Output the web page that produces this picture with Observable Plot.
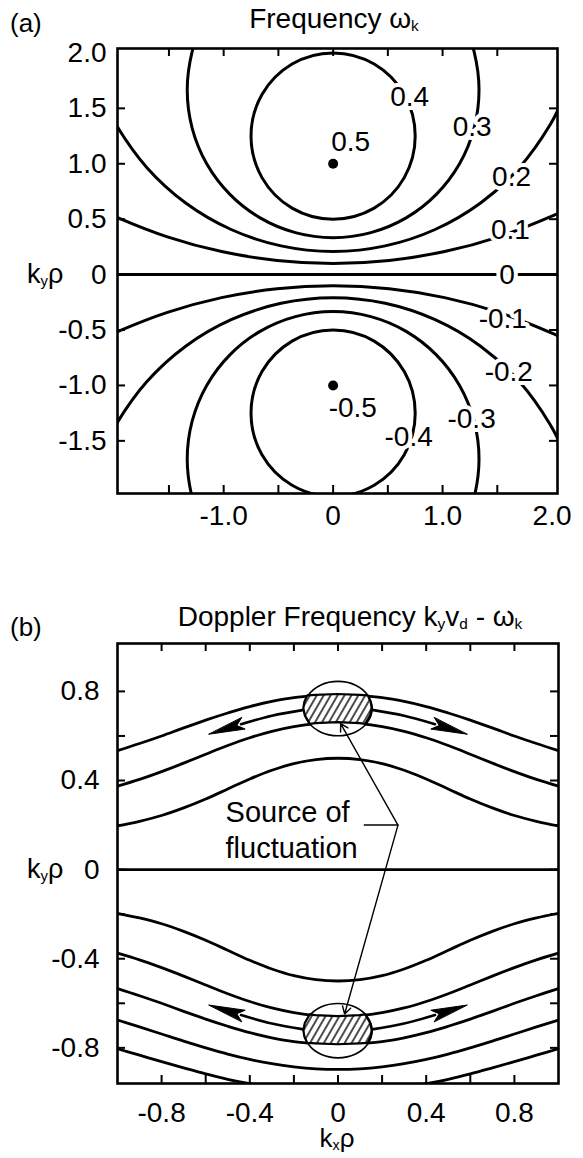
<!DOCTYPE html>
<html><head><meta charset="utf-8">
<script src="https://cdn.jsdelivr.net/npm/d3@7"></script>
<script src="https://cdn.jsdelivr.net/npm/@observablehq/plot@0.6"></script>
<style>
body{margin:0;background:#fff;font-family:"Liberation Sans",Arial,sans-serif;}
#wrap{position:relative;width:583px;height:1158px;overflow:hidden;background:#fff;}
.lbl{position:absolute;white-space:nowrap;line-height:1;color:#000;font-family:"Liberation Sans",Arial,sans-serif;}
.lbl sub{font-size:0.55em;vertical-align:baseline;position:relative;top:0.22em;}
</style></head><body><div id="wrap"></div>
<script>
// ---------- Panel (a): frequency omega_k ----------
const aTickMarks = [-1.5, -1, -0.5, 0, 0.5, 1, 1.5];
const aXLabels = [-1.0, 0, 1.0, 2.0];
const aYLabels = [2.0, 1.5, 1.0, 0.5, 0, -0.5, -1.0, -1.5];
// contour lines, [k_x rho, k_y rho] points
const a04 = [[0.75,1.25],[0.65,1.625],[0.375,1.9],[0,2.0],[-0.375,1.9],[-0.65,1.625],[-0.75,1.25],[-0.65,0.875],[-0.375,0.6],[0,0.5],[0.375,0.6],[0.65,0.875]];
const aM04 = [[0.75,-1.25],[0.65,-1.625],[0.375,-1.9],[0,-2.0],[-0.375,-1.9],[-0.65,-1.625],[-0.75,-1.25],[-0.65,-0.875],[-0.375,-0.6],[0,-0.5],[0.375,-0.6],[0.65,-0.875]];
const a03 = [[-1.208,2.23],[-1.288,2.012],[-1.333,1.667],[-1.288,1.322],[-1.155,1.0],[-0.943,0.724],[-0.667,0.512],[-0.345,0.379],[0,0.333],[0.345,0.379],[0.667,0.512],[0.943,0.724],[1.155,1.0],[1.288,1.322],[1.333,1.667],[1.288,2.012],[1.208,2.23]];
const aM03 = [[-1.208,-2.23],[-1.288,-2.012],[-1.333,-1.667],[-1.288,-1.322],[-1.155,-1.0],[-0.943,-0.724],[-0.667,-0.512],[-0.345,-0.379],[0,-0.333],[0.345,-0.379],[0.667,-0.512],[0.943,-0.724],[1.155,-1.0],[1.288,-1.322],[1.333,-1.667],[1.288,-2.012],[1.208,-2.23]];
const a02 = [[-2.093,1.568],[-1.984,1.354],[-1.703,0.967],[-1.347,0.646],[-0.932,0.407],[-0.476,0.259],[0,0.209],[0.476,0.259],[0.932,0.407],[1.347,0.646],[1.703,0.967],[1.984,1.354],[2.093,1.568]];
const aM02 = [[-2.093,-1.568],[-1.984,-1.354],[-1.703,-0.967],[-1.347,-0.646],[-0.932,-0.407],[-0.476,-0.259],[0,-0.209],[0.476,-0.259],[0.932,-0.407],[1.347,-0.646],[1.703,-0.967],[1.984,-1.354],[2.093,-1.568]];
const a01 = [[-2.148,0.597],[-1.993,0.525],[-1.514,0.341],[-1.019,0.208],[-0.512,0.128],[0,0.101],[0.512,0.128],[1.019,0.208],[1.514,0.341],[1.993,0.525],[2.148,0.597]];
const aM01 = [[-2.148,-0.597],[-1.993,-0.525],[-1.514,-0.341],[-1.019,-0.208],[-0.512,-0.128],[0,-0.101],[0.512,-0.128],[1.019,-0.208],[1.514,-0.341],[1.993,-0.525],[2.148,-0.597]];
const aPeaks = [[0, 1.0], [0, -1.0]];
const aLabelText = ["0.5","0.4","0.3","0.2","0.1","0","-0.1","-0.2","-0.3","-0.4","-0.5"];
const aLabelX = [0.16, 0.70, 1.27, 1.63, 1.62, 1.59, 1.55, 1.605, 1.265, 0.69, 0.18];
const aLabelY = [1.20, 1.60, 1.33, 0.88, 0.40, 0, -0.40, -0.875, -1.30, -1.47, -1.20];

// ---------- Panel (b): Doppler frequency ----------
const bKx = [-1,-0.9,-0.8,-0.7,-0.6,-0.5,-0.4,-0.3,-0.2,-0.1,0,0.1,0.2,0.3,0.4,0.5,0.6,0.7,0.8,0.9,1];
const bP01 = [0.196,0.217,0.243,0.277,0.317,0.362,0.407,0.446,0.476,0.494,0.500,0.494,0.476,0.446,0.407,0.362,0.317,0.277,0.243,0.217,0.196];
const bP02 = [0.375,0.405,0.440,0.478,0.518,0.557,0.592,0.621,0.642,0.655,0.660,0.655,0.642,0.621,0.592,0.557,0.518,0.478,0.440,0.405,0.375];
const bP03 = [0.534,0.566,0.600,0.636,0.671,0.703,0.732,0.755,0.772,0.781,0.786,0.781,0.772,0.755,0.732,0.703,0.671,0.636,0.600,0.566,0.534];
const bN01 = [-0.196,-0.217,-0.243,-0.277,-0.317,-0.362,-0.407,-0.446,-0.476,-0.494,-0.500,-0.494,-0.476,-0.446,-0.407,-0.362,-0.317,-0.277,-0.243,-0.217,-0.196];
const bN02 = [-0.375,-0.405,-0.440,-0.478,-0.518,-0.557,-0.592,-0.621,-0.642,-0.655,-0.660,-0.655,-0.642,-0.621,-0.592,-0.557,-0.518,-0.478,-0.440,-0.405,-0.375];
const bN03 = [-0.534,-0.566,-0.600,-0.636,-0.671,-0.703,-0.732,-0.755,-0.772,-0.781,-0.786,-0.781,-0.772,-0.755,-0.732,-0.703,-0.671,-0.636,-0.600,-0.566,-0.534];
const bN04 = [-0.675,-0.706,-0.738,-0.770,-0.800,-0.828,-0.852,-0.871,-0.885,-0.894,-0.897,-0.894,-0.885,-0.871,-0.852,-0.828,-0.800,-0.770,-0.738,-0.706,-0.675];
const bN05 = [-0.804,-0.833,-0.862,-0.890,-0.917,-0.941,-0.961,-0.978,-0.990,-0.998,-1.000,-0.998,-0.990,-0.978,-0.961,-0.941,-0.917,-0.890,-0.862,-0.833,-0.804];
const bTickMarks = [-0.8,-0.6,-0.4,-0.2,0,0.2,0.4,0.6,0.8];
const bLabels = [-0.8,-0.4,0,0.4,0.8];
// source regions (ellipses) and hatched bands
const bEllTop = [[0.155,0.723],[0.134,0.784],[0.0775,0.829],[0,0.845],[-0.0775,0.829],[-0.134,0.784],[-0.155,0.723],[-0.134,0.662],[-0.0775,0.617],[0,0.601],[0.0775,0.617],[0.134,0.662]];
const bEllBot = [[0.155,-0.723],[0.134,-0.784],[0.0775,-0.829],[0,-0.845],[-0.0775,-0.829],[-0.134,-0.784],[-0.155,-0.723],[-0.134,-0.662],[-0.0775,-0.617],[0,-0.601],[0.0775,-0.617],[0.134,-0.662]];
const bBandTop = [[-0.137,0.780],[-0.1,0.782],[0,0.786],[0.1,0.782],[0.137,0.780],[0.150,0.752],[0.155,0.723],[0.148,0.690],[0.126,0.652],[0.1,0.655],[0,0.660],[-0.1,0.655],[-0.126,0.652],[-0.148,0.690],[-0.155,0.723],[-0.150,0.752]];
const bBandBot = [[-0.137,-0.780],[-0.1,-0.782],[0,-0.786],[0.1,-0.782],[0.137,-0.780],[0.150,-0.752],[0.155,-0.723],[0.148,-0.690],[0.126,-0.652],[0.1,-0.655],[0,-0.660],[-0.1,-0.655],[-0.126,-0.652],[-0.148,-0.690],[-0.155,-0.723],[-0.150,-0.752]];
// propagation arrows
const bArrowTL = [[-0.155,0.717],[-0.3,0.691],[-0.44,0.653]];
const bArrowTR = [[0.155,0.717],[0.3,0.691],[0.44,0.653]];
const bArrowBL = [[-0.155,-0.717],[-0.3,-0.691],[-0.44,-0.653]];
const bArrowBR = [[0.155,-0.717],[0.3,-0.691],[0.44,-0.653]];
const bHeadTL = [[-0.585,0.608],[-0.421,0.631],[-0.459,0.647],[-0.437,0.682]];
const bHeadTR = [[0.585,0.608],[0.421,0.631],[0.459,0.647],[0.437,0.682]];
const bHeadBL = [[-0.585,-0.608],[-0.421,-0.631],[-0.459,-0.647],[-0.437,-0.682]];
const bHeadBR = [[0.585,-0.608],[0.421,-0.631],[0.459,-0.647],[0.437,-0.682]];
// "Source of fluctuation" leader
const bLeaderVertex = [0.272, 0.2];
const bLeaderStart = [0.117, 0.2];
const bLeaderTips = [[0.012, 0.655], [0.03, -0.648]];
const bNoteText = ["Source of", "fluctuation"];
const bNoteX = [-0.51, -0.51];
const bNoteY = [0.255, 0.093];

// ---------- layout ----------
const FONT = "Liberation Sans, Arial, sans-serif";
const FS = 28;
const fmt = d => d === 0 ? "0" : d.toFixed(1);
const TL = 8;
const wrap = document.getElementById("wrap");

function pts(level, arr) { return arr.map(p => ({level, x: p[0], y: p[1]})); }
function label(html, x, y, size, center) {
  const d = document.createElement("div");
  d.className = "lbl"; d.innerHTML = html;
  d.style.left = x + "px"; d.style.top = y + "px"; d.style.fontSize = size + "px";
  d.style.transform = center ? "translate(-50%,-50%)" : "translate(0,-50%)";
  wrap.appendChild(d);
}

// Panel (a)
const aM = {left: 117, right: 26, top: 48, bottom: 47}, aW = 583, aH = 540;
const aXd = [-1.97, 2.05], aYd = [-1.975, 2.04];
const aPx = (aW - aM.left - aM.right) / (aXd[1] - aXd[0]);
const aPy = (aH - aM.top - aM.bottom) / (aYd[1] - aYd[0]);
const aOpen = [...pts("0.3", a03), ...pts("-0.3", aM03), ...pts("0.2", a02), ...pts("-0.2", aM02), ...pts("0.1", a01), ...pts("-0.1", aM01)];
const aClosed = [...pts("0.4", a04), ...pts("-0.4", aM04)];
const aLabs = aLabelText.map((t, i) => ({t, x: aLabelX[i], y: aLabelY[i]}));

const svgA = Plot.plot({
  width: aW, height: aH,
  marginLeft: aM.left, marginRight: aM.right, marginTop: aM.top, marginBottom: aM.bottom,
  x: {domain: aXd, ticks: aXLabels, tickFormat: fmt, tickSize: 0, tickPadding: 12, label: null},
  y: {domain: aYd, ticks: aYLabels, tickFormat: fmt, tickSize: 0, tickPadding: 11, label: null},
  style: {fontFamily: FONT, fontSize: FS + "px", background: "white", color: "black", overflow: "visible"},
  marks: [
    Plot.ruleY([0], {stroke: "black", strokeWidth: 3}),
    Plot.line(aOpen, {x: "x", y: "y", z: "level", curve: "catmull-rom", stroke: "black", strokeWidth: 3, clip: true}),
    Plot.line(aClosed, {x: "x", y: "y", z: "level", curve: "catmull-rom-closed", stroke: "black", strokeWidth: 3, clip: true}),
    Plot.dot(aPeaks, {x: d => d[0], y: d => d[1], r: 5, fill: "black", stroke: null}),
    Plot.text(aLabs, {x: "x", y: "y", text: "t", fill: "black", stroke: "white", strokeWidth: 8, paintOrder: "stroke", fontSize: FS}),
    Plot.ruleX(aTickMarks, {x: d => d, y1: aYd[0], y2: aYd[0] + TL / aPy, stroke: "black", strokeWidth: 2}),
    Plot.ruleX(aTickMarks, {x: d => d, y1: aYd[1], y2: aYd[1] - TL / aPy, stroke: "black", strokeWidth: 2}),
    Plot.ruleY(aTickMarks, {y: d => d, x1: aXd[0], x2: aXd[0] + TL / aPx, stroke: "black", strokeWidth: 2}),
    Plot.ruleY(aTickMarks, {y: d => d, x1: aXd[1], x2: aXd[1] - TL / aPx, stroke: "black", strokeWidth: 2}),
    Plot.frame({stroke: "black", strokeWidth: 2.6})
  ]
});
svgA.style.position = "absolute"; svgA.style.left = "0px"; svgA.style.top = "0px";
wrap.appendChild(svgA);

// Panel (b)
const bTop = 590;
const bM = {left: 117, right: 25, top: 53, bottom: 37}, bW = 583, bH = 530;
const bXd = [-1, 1], bYd = [-0.96, 1.015];
const bPx = (bW - bM.left - bM.right) / (bXd[1] - bXd[0]);
const bPy = (bH - bM.top - bM.bottom) / (bYd[1] - bYd[0]);
const bSeries = [["0.1", bP01], ["0.2", bP02], ["0.3", bP03], ["-0.1", bN01], ["-0.2", bN02], ["-0.3", bN03], ["-0.4", bN04], ["-0.5", bN05]];
const bRows = bSeries.flatMap(([level, ys]) => ys.map((v, i) => ({level, x: bKx[i], y: v})));
const bArrows = [...pts("tl", bArrowTL), ...pts("tr", bArrowTR), ...pts("bl", bArrowBL), ...pts("br", bArrowBR)];
const bHeads = [...pts("tl", bHeadTL), ...pts("tr", bHeadTR), ...pts("bl", bHeadBL), ...pts("br", bHeadBR)];
const bElls = [...pts("t", bEllTop), ...pts("b", bEllBot)];
const bLeaders = bLeaderTips.map(t => ({x1: bLeaderVertex[0], y1: bLeaderVertex[1], x2: t[0], y2: t[1]}));
const bNotes = bNoteText.map((t, i) => ({t, x: bNoteX[i], y: bNoteY[i]}));

const svgB = Plot.plot({
  width: bW, height: bH,
  marginLeft: bM.left, marginRight: bM.right, marginTop: bM.top, marginBottom: bM.bottom,
  x: {domain: bXd, ticks: bLabels, tickFormat: fmt, tickSize: 0, tickPadding: 19, label: null},
  y: {domain: bYd, ticks: bLabels, tickFormat: fmt, tickSize: 0, tickPadding: 18, label: null},
  style: {fontFamily: FONT, fontSize: FS + "px", background: "white", color: "black", overflow: "visible"},
  marks: [
    Plot.ruleY([0], {stroke: "black", strokeWidth: 2.8}),
    Plot.line(bRows, {x: "x", y: "y", z: "level", curve: "catmull-rom", stroke: "black", strokeWidth: 2.8, clip: true}),
    Plot.line(bArrows, {x: "x", y: "y", z: "level", curve: "catmull-rom", stroke: "black", strokeWidth: 2.6}),
    Plot.line(bElls, {x: "x", y: "y", z: "level", curve: "catmull-rom-closed", fill: "white", stroke: "black", strokeWidth: 1.6}),
    Plot.link([{x1: bLeaderStart[0], y1: bLeaderStart[1], x2: bLeaderVertex[0], y2: bLeaderVertex[1]}], {x1: "x1", y1: "y1", x2: "x2", y2: "y2", stroke: "black", strokeWidth: 1.6}),
    Plot.arrow(bLeaders, {x1: "x1", y1: "y1", x2: "x2", y2: "y2", stroke: "black", strokeWidth: 1.4, headLength: 9}),
    Plot.line(bHeads, {x: "x", y: "y", z: "level", curve: "linear-closed", fill: "black", stroke: "black", strokeWidth: 1}),
    Plot.text(bNotes, {x: "x", y: "y", text: "t", textAnchor: "start", fill: "black", fontSize: 29}),
    Plot.ruleX(bTickMarks, {x: d => d, y1: bYd[0], y2: bYd[0] + TL / bPy, stroke: "black", strokeWidth: 2}),
    Plot.ruleX(bTickMarks, {x: d => d, y1: bYd[1], y2: bYd[1] - TL / bPy, stroke: "black", strokeWidth: 2}),
    Plot.ruleY(bTickMarks, {y: d => d, x1: bXd[0], x2: bXd[0] + TL / bPx, stroke: "black", strokeWidth: 2}),
    Plot.ruleY(bTickMarks, {y: d => d, x1: bXd[1], x2: bXd[1] - TL / bPx, stroke: "black", strokeWidth: 2}),
    Plot.frame({stroke: "black", strokeWidth: 2.6})
  ]
});
svgB.style.position = "absolute"; svgB.style.left = "0px"; svgB.style.top = bTop + "px";
wrap.appendChild(svgB);

// hatched source bands, drawn with the plot's own x/y scales
const NS = "http://www.w3.org/2000/svg";
let sxf, syf;
try {
  const sx = svgB.scale("x"), sy = svgB.scale("y");
  sxf = v => sx.apply(v); syf = v => sy.apply(v);
  if (!isFinite(sxf(0))) throw new Error("no scale");
} catch (e) {
  const sx = d3.scaleLinear(bXd, [bM.left, bW - bM.right]);
  const sy = d3.scaleLinear(bYd, [bH - bM.bottom, bM.top]);
  sxf = sx; syf = sy;
}
const defs = document.createElementNS(NS, "defs");
defs.innerHTML = '<pattern id="hatchB" patternUnits="userSpaceOnUse" width="6" height="6" patternTransform="rotate(30)">' +
  '<rect width="6" height="6" fill="white"/><line x1="3" y1="-1" x2="3" y2="7" stroke="black" stroke-width="1.4"/></pattern>';
svgB.insertBefore(defs, svgB.firstChild);
const bandLine = d3.line().x(p => sxf(p[0])).y(p => syf(p[1])).curve(d3.curveLinearClosed);
const bandG = document.createElementNS(NS, "g");
for (const band of [bBandTop, bBandBot]) {
  const p = document.createElementNS(NS, "path");
  p.setAttribute("d", bandLine(band));
  p.setAttribute("fill", "url(#hatchB)");
  p.setAttribute("stroke", "black");
  p.setAttribute("stroke-width", "2.2");
  p.setAttribute("stroke-linejoin", "round");
  bandG.appendChild(p);
}
// insert right after the ellipse outlines (third line mark of panel b)
const lineGs = svgB.querySelectorAll("g[aria-label='line']");
const ellG = lineGs.length >= 3 ? lineGs[2] : null;
if (ellG && ellG.nextSibling) ellG.parentNode.insertBefore(bandG, ellG.nextSibling);
else svgB.appendChild(bandG);

// titles and axis labels
label("(a)", 10, 23, 26, false);
label("Frequency ω<sub>k</sub>", 334, 19, FS, true);
label("k<sub>y</sub>ρ", 27, 274, 27, false);
label("(b)", 10, 627, 26, false);
label("Doppler Frequency k<sub>y</sub>v<sub>d</sub> - ω<sub>k</sub>", 350, 617, FS, true);
label("k<sub>y</sub>ρ", 27, 869, 27, false);
label("k<sub>x</sub>ρ", 337, 1138, 26, true);
</script></body></html>
